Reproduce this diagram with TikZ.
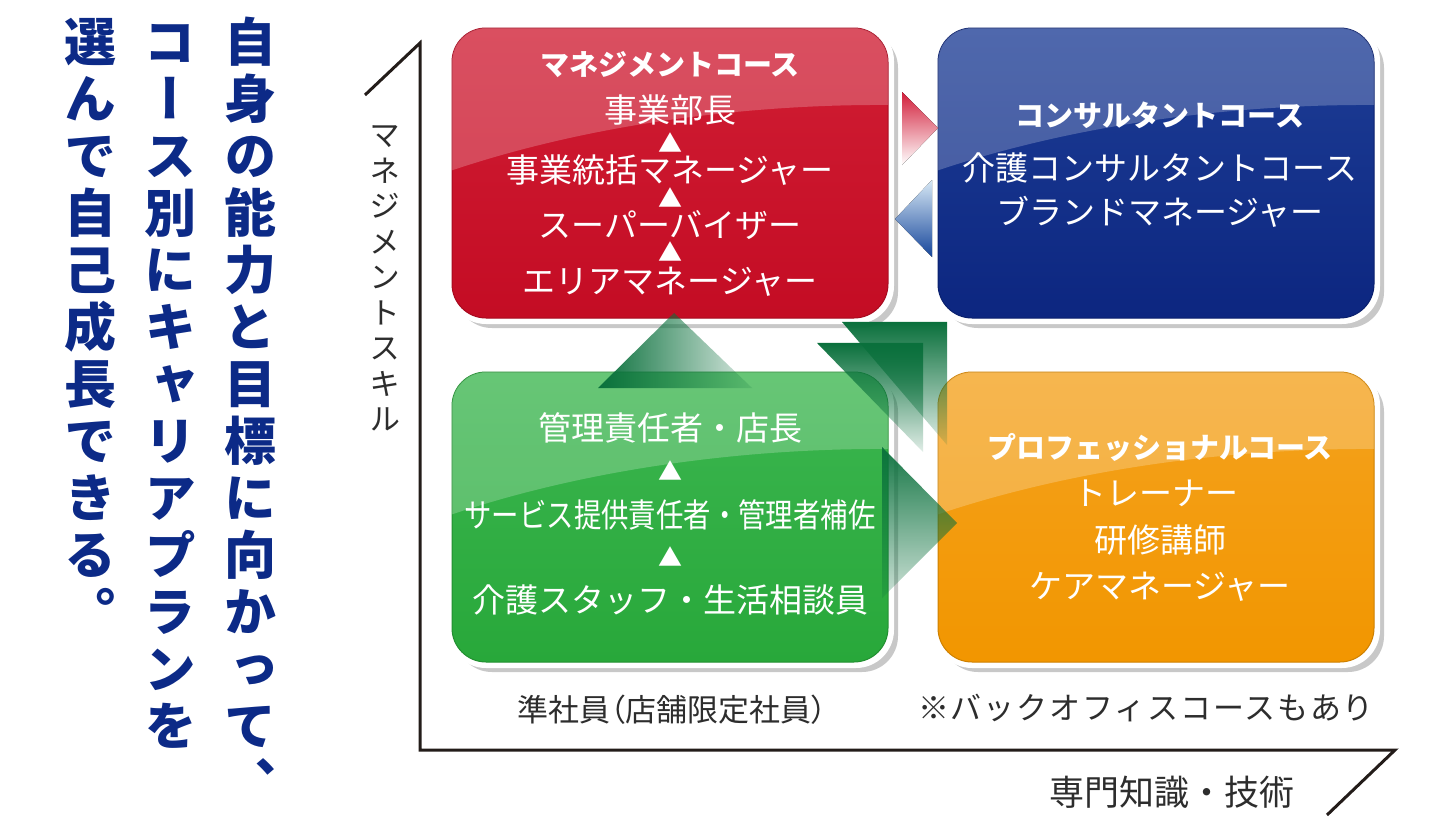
\documentclass[tikz,border=0pt]{standalone}
\usepackage{fontspec}
\usetikzlibrary{calc,fadings}
\newfontfamily\jp{Noto Sans CJK JP}
\newfontfamily\jpv[RawFeature=+vert]{Noto Sans CJK JP}
\newfontfamily\jpp[RawFeature=+palt]{Noto Sans CJK JP}
\newfontfamily\jpls[LetterSpace=6]{Noto Sans CJK JP}
\definecolor{navyT}{RGB}{12,42,135}
\definecolor{axisC}{RGB}{35,28,25}
\definecolor{labelC}{RGB}{45,45,45}
\definecolor{shadowC}{RGB}{200,200,200}
\definecolor{redM}{RGB}{196,12,36}
\definecolor{redT}{RGB}{208,30,52}
\definecolor{blueM}{RGB}{12,38,128}
\definecolor{blueT}{RGB}{30,62,150}
\definecolor{greenM}{RGB}{40,168,58}
\definecolor{greenT}{RGB}{60,182,80}
\definecolor{orangeM}{RGB}{242,150,0}
\definecolor{orangeT}{RGB}{244,162,30}
\definecolor{greenD}{RGB}{10,112,60}
\definecolor{arrRed}{RGB}{210,30,58}
\definecolor{arrBlue}{RGB}{22,70,155}
\definecolor{arrBlueL}{RGB}{215,232,245}
\tikzfading[name=fadeLR, left color=transparent!0, right color=transparent!85]
\tikzfading[name=fadeTB, top color=transparent!0, bottom color=transparent!88]
\tikzfading[name=fadeTBr, top color=transparent!5, bottom color=transparent!80]
\newcommand\glossybox[5]{%
  \fill[shadowC, rounded corners=36pt] ($(#2,#3)+(-214,-141)$) rectangle ($(#2,#3)+(228,155)$);
  \fill[white, rounded corners=38pt] ($(#2,#3)+(-222,-150)$) rectangle ($(#2,#3)+(224,151)$);
  \node[cbox, top color=#5, bottom color=#4, draw=#4!85!black, line width=1pt] (#1) at (#2,#3) {};
  \begin{scope}
    \clip[rounded corners=34pt] (#1.north west) rectangle (#1.south east);
    \fill[white, opacity=0.22] ($(#1.north west)+(-2,-2)$) -- ($(#1.north west)+(-2,143)$)
      .. controls ($(#1.north west)+(140,95)$) and ($(#1.north west)+(300,76)$) .. ($(#1.north east)+(2,77)$)
      -- ($(#1.north east)+(2,-2)$) -- cycle;
  \end{scope}}
\begin{document}
\begin{tikzpicture}[x=1pt,y=-1pt,
  cbox/.style={rounded corners=34pt, minimum width=436pt, minimum height=290pt, inner sep=0pt, outer sep=0pt},
  ttl/.style={text=white, inner sep=0pt, font=\jp\bfseries\fontsize{29}{34}\selectfont},
  bd/.style={text=white, inner sep=0pt, font=\jp\fontsize{33}{38}\selectfont},
  tri/.style={text=white, inner sep=0pt, font=\jp\fontsize{24}{28}\selectfont},
  bigv/.style={text=navyT, inner sep=0pt, text height=0.88em, text depth=0.12em, font=\jpv\bfseries\fontsize{52}{60}\selectfont},
  axv/.style={text=labelC, inner sep=0pt, text height=0.88em, text depth=0.12em, font=\jpv\fontsize{31}{36}\selectfont},
  lbl/.style={text=labelC, inner sep=0pt},
  axis/.style={draw=axisC, line width=3pt, line join=miter}]
\useasboundingbox[fill=white] (0,0) rectangle (1440,833);

% left vertical headline
\foreach \ch [count=\i from 0] in {自,身,の,能,力,と,目,標,に,向,か,っ,て,、}
  \node[bigv] (ca\i) at (250,{58+57*\i}) {\ch};
\foreach \ch [count=\i from 0] in {コ,ー,ス,別,に,キ,ャ,リ,ア,プ,ラ,ン,を}
  \node[bigv] (cb\i) at (170,{58+57*\i}) {\ch};
\foreach \ch [count=\i from 0] in {選,ん,で,自,己,成,長,で,き,る,。}
  \node[bigv] (cc\i) at (90,{58+57*\i}) {\ch};

% axes
\coordinate (vtick) at (365,95);
\coordinate (vtop) at (420,43);
\coordinate (orig) at (420,750);
\coordinate (hend) at (1395,750);
\coordinate (htick) at (1327,815);
\draw[axis] (vtick) -- (vtop) -- (orig) -- (hend) -- (htick);
\foreach \ch [count=\i from 0] in {マ,ネ,ジ,メ,ン,ト,ス,キ,ル}
  \node[axv] (ya\i) at (385,{143+35.5*\i}) {\ch};

% boxes
\glossybox{mgmt}{670}{173}{redM}{redT}
\glossybox{cons}{1156}{173}{blueM}{blueT}
\glossybox{staff}{670}{517}{greenM}{greenT}
\glossybox{prof}{1156}{517}{orangeM}{orangeT}

% management course text
\node[ttl] (m0) at (670,65) {マネジメントコース};
\node[bd] (m1) at (670,110) {事業部長};
\node[tri] (m1a) at (670,143) {▲};
\node[bd] (m2) at (670,170) {事業統括マネージャー};
\node[tri] (m2a) at (670,198) {▲};
\node[bd] (m3) at (670,225) {スーパーバイザー};
\node[tri] (m3a) at (670,252) {▲};
\node[bd] (m4) at (670,282) {エリアマネージャー};

% consultant course text
\node[ttl] (c0) at (1160,115) {コンサルタントコース};
\node[bd] (c1) at (1160,168) {介護コンサルタントコース};
\node[bd] (c2) at (1160,212) {ブランドマネージャー};

% staff text
\node[bd] (s1) at (670,428) {管理責任者・店長};
\node[tri] (s1a) at (670,471) {▲};
\node[bd] (s2) at (670,515) {\scalebox{0.83}[1]{サービス提供責任者・管理者補佐}};
\node[tri] (s2a) at (670,557) {▲};
\node[bd] (s3) at (670,600) {介護スタッフ・生活相談員};

% professional course text
\node[ttl] (p0) at (1160,447) {プロフェッショナルコース};
\node[bd] (p1) at (1156,493) {トレーナー};
\node[bd] (p2) at (1160,540) {研修講師};
\node[bd] (p3) at (1160,587) {ケアマネージャー};

% arrows between courses
\fill[top color=arrRed, bottom color=white] (902,92) -- (938,128) -- (902,165) -- cycle;
\fill[top color=arrBlueL, bottom color=arrBlue] (932,180) -- (895,219) -- (932,257) -- cycle;
\fill[greenD, path fading=fadeLR] (674,313) -- (752,388) -- (598,388) -- cycle;
\fill[greenD, path fading=fadeTB] (842,322) -- (947,322) -- (947,445) -- cycle;
\fill[greenD, path fading=fadeTB] (817,343) -- (923,343) -- (923,452) -- cycle;
\fill[greenD, path fading=fadeTBr] (882,447) -- (957,523) -- (882,598) -- cycle;

% bottom labels
\node[lbl, font=\jpp\fontsize{31}{36}\selectfont] (jun) at (672,710) {準社員（店舗限定社員）};
\node[lbl, font=\jpls\fontsize{31}{36}\selectfont] (note) at (1146,708) {※バックオフィスコースもあり};
\node[lbl, font=\jp\fontsize{35}{40}\selectfont] (xlab) at (1172,792) {専門知識・技術};
\end{tikzpicture}
\end{document}
